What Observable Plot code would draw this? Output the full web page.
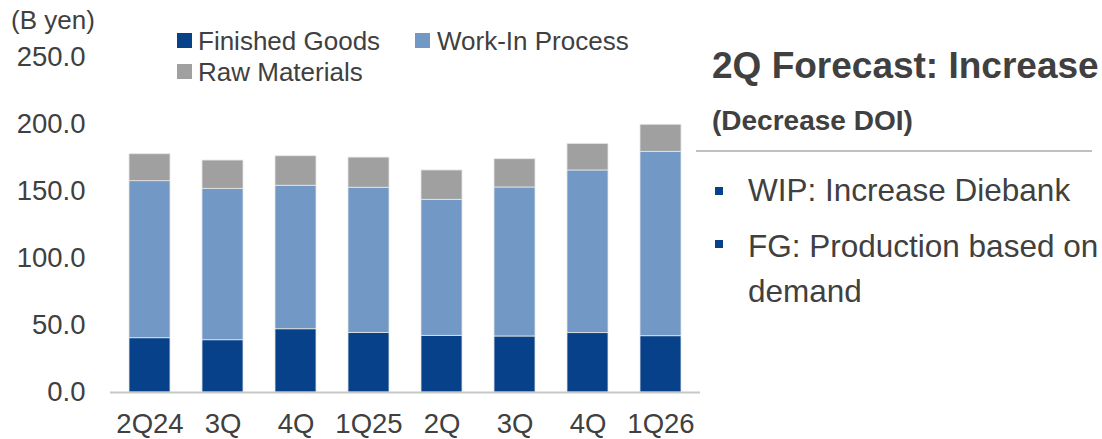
<!DOCTYPE html>
<html><head><meta charset="utf-8">
<script src="https://cdn.jsdelivr.net/npm/d3@7"></script>
<script src="https://cdn.jsdelivr.net/npm/@observablehq/plot@0.6"></script>
<style>
body{margin:0;background:#fff;font-family:"Liberation Sans",Arial,sans-serif;color:#404040;}
#wrap{position:relative;width:1102px;height:439px;overflow:hidden;background:#fff}
#wrap svg{position:absolute;left:0;top:0}
.t{position:absolute;line-height:1;white-space:nowrap}
.sw{position:absolute;width:15px;height:15px}
.bul{position:absolute;width:8px;height:8px;background:#06418a}
</style></head><body><div id="wrap"></div>
<script>
const quarters = ["2Q24","3Q","4Q","1Q25","2Q","3Q","4Q","1Q26"];
const finishedGoods = [40.5, 39.0, 47.2, 44.5, 42.3, 41.8, 44.3, 42.0];
const workInProcess = [117.2, 113.0, 107.1, 108.3, 101.5, 111.2, 121.4, 137.6];
const rawMaterials = [20.1, 21.1, 22.0, 22.5, 21.9, 21.1, 19.8, 20.2];
const seriesNames = ["Finished Goods","Work-In Process","Raw Materials"];
const seriesColors = ["#06418a","#7298c6","#a0a0a0"];
const yTicks = [0, 50, 100, 150, 200, 250];
const unitLabel = "(B yen)";
const panelTitle = "2Q Forecast: Increase";
const panelSubtitle = "(Decrease DOI)";
const bullets = ["WIP: Increase Diebank", "FG: Production based on demand"];

const seriesValues = [finishedGoods, workInProcess, rawMaterials];
const rows = [];
quarters.forEach((q, i) => {
  seriesNames.forEach((s, j) => rows.push({key: i, series: s, value: seriesValues[j][i]}));
});

const chart = Plot.plot({
  width: 1102, height: 439,
  marginLeft: 110, marginRight: 402, marginTop: 57, marginBottom: 47,
  style: {fontFamily: '"Liberation Sans", Arial, sans-serif', fontSize: "27.5px", color: "#404040", background: "transparent"},
  x: {type: "band", domain: d3.range(quarters.length), paddingInner: 0.445, paddingOuter: 0.2165},
  y: {domain: [0, 250]},
  color: {domain: seriesNames, range: seriesColors},
  marks: [
    Plot.barY(rows, Plot.stackY({x: "key", y: "value", fill: "series", order: null, stroke: "#e6e6e6", strokeWidth: 0.8})),
    Plot.ruleY([0], {stroke: "#c8c8c8", strokeWidth: 2}),
    Plot.axisY({ticks: yTicks, tickFormat: d => d.toFixed(1), tickSize: 0, tickPadding: 25, label: null}),
    Plot.axisX({tickSize: 0, tickPadding: 21, tickFormat: i => quarters[i], label: null})
  ]
});
const wrap = document.getElementById("wrap");
wrap.appendChild(chart);

function addText(txt, left, top, size, weight) {
  const d = document.createElement("div");
  d.className = "t";
  d.textContent = txt;
  d.style.left = left + "px"; d.style.top = top + "px";
  d.style.fontSize = size + "px";
  if (weight) d.style.fontWeight = weight;
  wrap.appendChild(d);
  return d;
}
addText(unitLabel, 11, 7, 26);
// legend
const legendPos = [[177, 198, 50], [415, 437, 50], [177, 198, 81]];
seriesNames.forEach((s, j) => {
  const [sx, tx, base] = legendPos[j];
  const sw = document.createElement("div");
  sw.className = "sw"; sw.style.background = seriesColors[j];
  sw.style.left = sx + "px"; sw.style.top = (base - 17) + "px";
  wrap.appendChild(sw);
  addText(s, tx, base - 22, 26);
});
// right panel
addText(panelTitle, 712, 47, 37, "bold");
addText(panelSubtitle, 712, 107, 28, "bold");
const sep = document.createElement("div");
sep.style.cssText = "position:absolute;left:696px;top:150px;width:396px;height:2px;background:#c0c0c0";
wrap.appendChild(sep);
const b1 = addText(bullets[0], 748, 175, 31.5);
const bl1 = document.createElement("div"); bl1.className = "bul"; bl1.style.left = "715px"; bl1.style.top = "187px"; wrap.appendChild(bl1);
const b2 = addText(bullets[1], 748, 224, 31.5);
b2.style.whiteSpace = "normal"; b2.style.width = "353px"; b2.style.lineHeight = "45px";
const bl2 = document.createElement("div"); bl2.className = "bul"; bl2.style.left = "715px"; bl2.style.top = "240px"; wrap.appendChild(bl2);
</script></body></html>
